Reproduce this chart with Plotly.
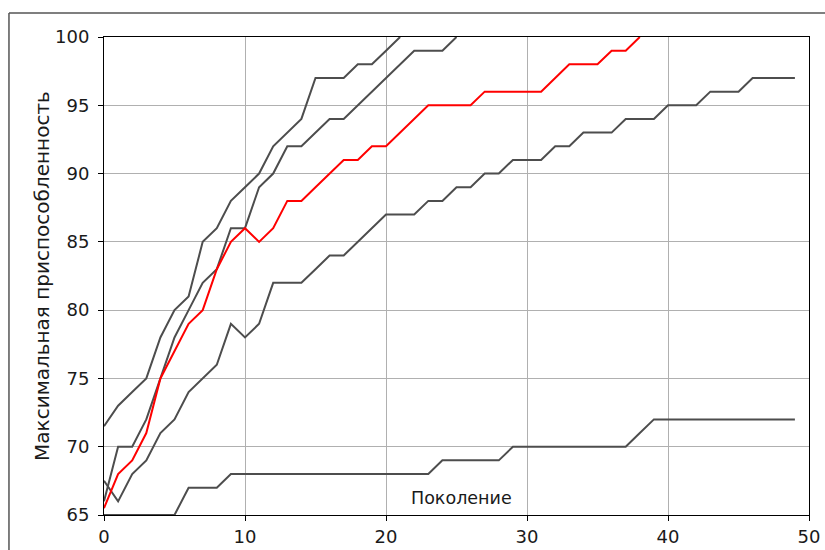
import plotly.graph_objects as go

# Generations (x) and max-fitness series
gen_a = list(range(0, 22))
fit_a = [71.5, 73, 74, 75, 78, 80, 81, 85, 86, 88, 89, 90, 92, 93, 94, 97, 97, 97, 98, 98, 99, 100]

gen_b = list(range(0, 26))
fit_b = [66, 70, 70, 72, 75, 78, 80, 82, 83, 86, 86, 89, 90, 92, 92, 93, 94, 94, 95, 96, 97, 98, 99, 99, 99, 100]

gen_red = list(range(0, 39))
fit_red = [65.5, 68, 69, 71, 75, 77, 79, 80, 83, 85, 86, 85, 86, 88, 88, 89, 90, 91, 91, 92,
           92, 93, 94, 95, 95, 95, 95, 96, 96, 96, 96, 96, 97, 98, 98, 98, 99, 99, 100]

gen_d = list(range(0, 50))
fit_d = [67.5, 66, 68, 69, 71, 72, 74, 75, 76, 79, 78, 79, 82, 82, 82, 83, 84, 84, 85, 86,
         87, 87, 87, 88, 88, 89, 89, 90, 90, 91, 91, 91, 92, 92, 93, 93, 93, 94, 94, 94,
         95, 95, 95, 96, 96, 96, 97, 97, 97, 97]

gen_e = list(range(0, 50))
fit_e = [65, 65, 65, 65, 65, 65, 67, 67, 67, 68, 68, 68, 68, 68, 68, 68, 68, 68, 68, 68,
         68, 68, 68, 68, 69, 69, 69, 69, 69, 70, 70, 70, 70, 70, 70, 70, 70, 70, 71, 72,
         72, 72, 72, 72, 72, 72, 72, 72, 72, 72]

x_ticks = [0, 10, 20, 30, 40, 50]
y_ticks = [65, 70, 75, 80, 85, 90, 95, 100]
x_label = "Поколение"
y_label = "Максимальная приспособленность"

GRAY = "#4d4d4d"
RED = "#ff0000"
FONT = "DejaVu Sans"
TXT = "#1a1a1a"

fig = go.Figure()
for gx, gy in [(gen_a, fit_a), (gen_b, fit_b), (gen_d, fit_d), (gen_e, fit_e)]:
    fig.add_trace(go.Scatter(x=gx, y=gy, mode="lines",
                             line=dict(color=GRAY, width=2), hoverinfo="skip"))
fig.add_trace(go.Scatter(x=gen_red, y=fit_red, mode="lines",
                         line=dict(color=RED, width=2), hoverinfo="skip"))

axis_common = dict(showline=True, mirror=True, linecolor="black", linewidth=1,
                   ticks="outside", ticklen=5, tickcolor="black", tickwidth=1,
                   showgrid=True, gridcolor="#b0b0b0", gridwidth=1, zeroline=False,
                   automargin=False,
                   tickfont=dict(family=FONT, size=18, color=TXT))

fig.update_xaxes(range=[0, 50], tickvals=x_ticks, **axis_common)
fig.update_yaxes(range=[65, 100], tickvals=y_ticks, ticklabelstandoff=5, **axis_common)

fig.update_layout(
    width=825, height=550,
    margin=dict(l=104, r=16, t=37, b=35),
    paper_bgcolor="white", plot_bgcolor="white",
    showlegend=False,
    font=dict(family=FONT, color=TXT),
    annotations=[
        dict(text=x_label, xref="paper", yref="paper", x=0.507, y=0.0356,
             xanchor="center", yanchor="middle", showarrow=False,
             font=dict(family=FONT, size=17.5, color=TXT)),
        dict(text=y_label, xref="paper", yref="paper", x=-0.088, y=0.5,
             xanchor="center", yanchor="middle", showarrow=False, textangle=-90,
             font=dict(family=FONT, size=20, color=TXT)),
    ],
    shapes=[
        dict(type="line", xref="paper", yref="paper", x0=-0.1348, x1=1.03,
             y0=1.0502, y1=1.0502, line=dict(color="#555555", width=1.5)),
        dict(type="line", xref="paper", yref="paper", x0=-0.1348, x1=-0.1348,
             y0=1.0502, y1=-0.08, line=dict(color="#555555", width=1.5)),
    ],
)

fig.write_html(
    "out.html",
    config={"displayModeBar": False},
    post_script="document.body.style.margin='0';document.documentElement.style.overflow='hidden';",
)
